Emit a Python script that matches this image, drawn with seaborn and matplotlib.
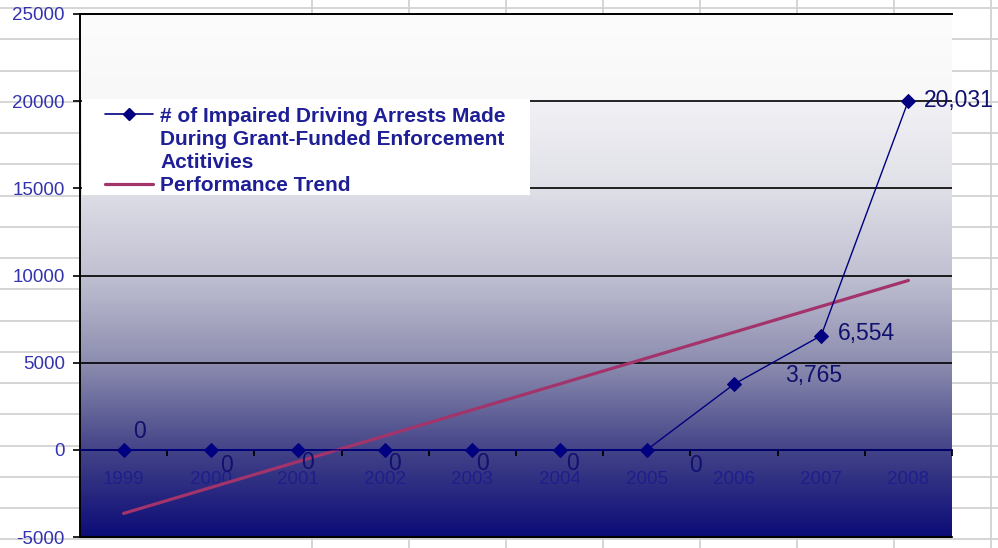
import numpy as np
import pandas as pd
import matplotlib
matplotlib.use("Agg")
import matplotlib.pyplot as plt
from matplotlib.colors import LinearSegmentedColormap
from matplotlib.lines import Line2D
from matplotlib.patches import Rectangle
import seaborn as sns

# datos del grafico
years = ["1999", "2000", "2001", "2002", "2003", "2004", "2005", "2006", "2007", "2008"]
arrests = [0, 0, 0, 0, 0, 0, 0, 3765, 6554, 20031]
value_labels = ["0", "0", "0", "0", "0", "0", "0", "3,765", "6,554", "20,031"]
series_name = ["# of Impaired Driving Arrests Made", "During Grant-Funded Enforcement", "Actitivies"]
trend_name = "Performance Trend"
y_ticks = [-5000, 0, 5000, 10000, 15000, 20000, 25000]

# desplazamiento de las etiquetas de valor (puntos)
label_offsets = [(11.5, 13), (11.5, -11), (6.5, -9), (7, -9.5), (7, -9.5),
                 (9.5, -9.5), (35, -11), (57.5, 6.5), (32.5, 1.5), (36, 0)]

df = pd.DataFrame({"idx": np.arange(len(years)), "year": years, "arrests": arrests})

sns.set_theme(style="white")
plt.rcParams["font.family"] = ["Liberation Sans", "DejaVu Sans"]
plt.rcParams["axes.unicode_minus"] = False

navy = "#000080"
trend_color = "#a3346b"

fig = plt.figure(figsize=(9.98, 5.48), dpi=100)
fig.patch.set_facecolor("white")

# cuadricula de la hoja de calculo detras del grafico
bg = fig.add_axes([0, 0, 1, 1], zorder=-1)
bg.set_xlim(0, 998)
bg.set_ylim(548, 0)
bg.axis("off")
for x in np.arange(312, 998, 97):
    bg.axvline(x, color="#d2d2d2", lw=1.3)
for y in np.arange(8, 548, 31.25):
    bg.axhline(y, color="#d2d2d2", lw=1.3)

ax = fig.add_axes([80 / 998, 11 / 548, 872 / 998, 523 / 548])

# fondo degradado del area de trazado
stops = [(0.0, "#fcfcfc"), (0.16, "#f8f8f9"), (0.17, "#f1f1f5"), (0.33, "#e0e0e8"),
         (0.5, "#c0c0d2"), (0.67, "#8c8caf"), (0.835, "#434388"), (1.0, "#0c0c78")]
cmap = LinearSegmentedColormap.from_list("fondo", stops)
ax.imshow(np.linspace(0, 1, 512).reshape(-1, 1), cmap=cmap, aspect="auto",
          extent=[-0.5, 9.5, -5000, 25000], origin="upper", zorder=0)

sns.lineplot(data=df, x="idx", y="arrests", ax=ax, color=navy, lw=1.0,
             marker="D", markersize=7, markeredgecolor=navy, zorder=4)
sns.regplot(data=df, x="idx", y="arrests", ax=ax, scatter=False, ci=None, truncate=True,
            line_kws=dict(color=trend_color, lw=2.3, zorder=3))

for i, (v, txt) in enumerate(zip(arrests, value_labels)):
    ax.annotate(txt, (i, v), xytext=label_offsets[i], textcoords="offset points",
                ha="center", va="center", fontsize=16.5, color="#10106e", zorder=6)

ax.set_xlim(-0.5, 9.5)
ax.set_ylim(-5000, 25000)
ax.set_xlabel("")
ax.set_ylabel("")

# ejes
ax.spines["bottom"].set_position(("data", 0))
ax.spines["bottom"].set_color("#000070")
ax.spines["bottom"].set_linewidth(1.3)
ax.spines["right"].set_visible(False)
for s in ["left", "top"]:
    ax.spines[s].set_color("black")
    ax.spines[s].set_linewidth(1.4)
ax.axhline(-5000, color="black", lw=1.5, zorder=3, clip_on=False)

ax.set_xticks(df["idx"])
ax.set_xticklabels(years)
ax.set_xticks(np.arange(-0.5, 10, 1), minor=True)
ax.tick_params(axis="x", which="major", bottom=True, length=0, pad=15,
               labelsize=13.5, labelcolor="#1e1e8c")
ax.tick_params(axis="x", which="minor", bottom=True, length=4, width=1.3,
               color="black", direction="out")
ax.set_yticks(y_ticks)
ax.tick_params(axis="y", left=True, length=5, width=1.2, color="black", direction="out",
               pad=6, labelsize=13.5, labelcolor="#3333b0")
ax.yaxis.grid(True, color="black", lw=1.2)
ax.xaxis.grid(False)

# leyenda
ax.add_patch(Rectangle((0.002, 0.654), 0.514, 0.183, transform=ax.transAxes,
                       facecolor="white", edgecolor="none", zorder=2.6))
trend_line = ax.get_lines()[1]
data_handle = Line2D([], [], color=navy, lw=1.2, marker="D", markersize=6)
blank = Line2D([], [], linestyle="none")
leg = ax.legend(handles=[data_handle, blank, blank, trend_line],
                labels=series_name + [trend_name],
                loc="upper left", bbox_to_anchor=(0.029, 0.823), frameon=False,
                borderpad=0, borderaxespad=0, labelspacing=0.2,
                handlelength=2.3, handletextpad=0.34,
                prop=dict(size=15, weight="bold"))
for t in leg.get_texts():
    t.set_color("#1e1e96")
leg.set_zorder(7)

fig.savefig("out.png", dpi=100)
